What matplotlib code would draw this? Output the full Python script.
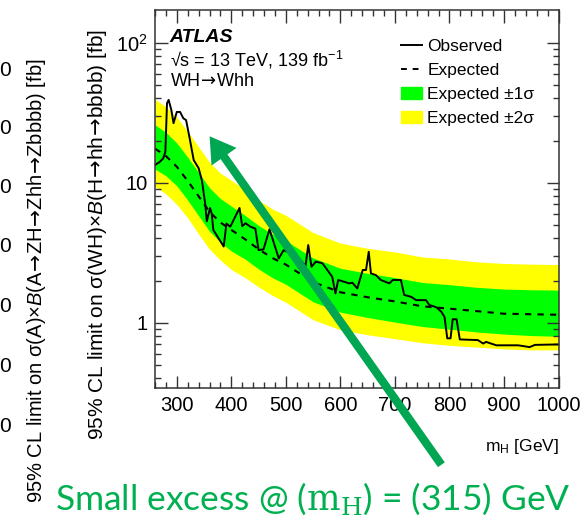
import matplotlib
matplotlib.use("Agg")
import matplotlib.pyplot as plt
from matplotlib.patches import FancyArrowPatch, Patch
from matplotlib.lines import Line2D
from matplotlib.ticker import MultipleLocator, LogLocator, NullFormatter, FixedLocator, FixedFormatter

plt.rcParams["font.family"] = ["Liberation Sans", "DejaVu Sans"]
plt.rcParams["mathtext.fontset"] = "custom"
plt.rcParams["mathtext.rm"] = "Liberation Sans"
plt.rcParams["mathtext.it"] = "Liberation Sans:italic"
plt.rcParams["mathtext.bf"] = "Liberation Sans:bold"
plt.rcParams["mathtext.sf"] = "DejaVu Sans"

# expected limit and bands
mass = [260, 280, 300, 320, 340, 360, 380, 400, 425, 450, 475, 500, 550,
        600, 650, 700, 750, 800, 850, 900, 950, 1000]
expected = [17.5, 15.5, 13.0, 10.3, 8.0, 6.2, 5.2, 4.6, 3.95, 3.35, 2.9, 2.6, 1.95,
            1.65, 1.52, 1.42, 1.31, 1.26, 1.21, 1.16, 1.15, 1.14]
up2 = [39.4, 34.9, 29.3, 23.2, 18.0, 14.0, 11.7, 10.4, 8.9, 7.5, 6.5, 5.85, 4.4,
       3.7, 3.4, 3.2, 2.95, 2.85, 2.72, 2.65, 2.62, 2.6]
up1 = [25.9, 22.9, 19.2, 15.2, 11.8, 9.2, 7.7, 6.8, 5.85, 4.95, 4.3, 3.85, 2.9,
       2.45, 2.25, 2.1, 1.94, 1.87, 1.79, 1.74, 1.72, 1.71]
dn1 = [12.5, 11.2, 9.5, 7.5, 5.8, 4.5, 3.75, 3.25, 2.85, 2.42, 2.1, 1.88, 1.41,
       1.19, 1.09, 1.01, 0.94, 0.9, 0.86, 0.83, 0.81, 0.8]
dn2 = [9.4, 8.3, 7.0, 5.6, 4.3, 3.35, 2.8, 2.4, 2.1, 1.8, 1.57, 1.4, 1.05,
       0.89, 0.82, 0.77, 0.72, 0.69, 0.67, 0.65, 0.64, 0.64]

# observed limit
obs_m = [260, 268, 275, 279, 282, 285, 290, 294, 300, 306, 312, 317, 323, 331, 340,
         346, 352, 355, 361, 364, 367, 386, 391, 398, 403, 415, 420, 426, 435, 444,
         450, 459, 470, 487, 496, 509, 518, 527, 536, 541, 547, 555, 567, 576, 585,
         591, 596, 607, 616, 622, 631, 641, 647, 652, 656, 665, 674, 690, 696, 711,
         717, 730, 739, 757, 763, 776, 785, 791, 796, 802, 806, 813, 819, 852, 862,
         867, 886, 926, 947, 957, 1000]
obs_v = [13.4, 14.0, 14.9, 16.6, 36.9, 39.0, 33.0, 26.6, 32.0, 32.0, 28.8, 28.0, 21.3, 14.5, 12.7,
         10.4, 7.1, 5.3, 6.6, 6.0, 4.6, 3.5, 5.1, 4.85, 5.3, 6.6, 4.9, 5.13, 4.85, 4.7,
         3.3, 3.34, 4.65, 2.88, 3.3, 3.13, 3.04, 2.8, 2.54, 3.59, 2.51, 2.73, 2.66, 2.38, 2.13,
         1.62, 2.02, 1.96, 1.91, 1.93, 1.76, 2.38, 2.38, 3.21, 2.25, 2.19, 2.02, 1.91, 2.02, 2.02,
         1.58, 1.53, 1.45, 1.45, 1.34, 1.29, 1.2, 1.1, 0.774, 0.774, 1.06, 1.06, 0.76, 0.752, 0.71,
         0.73, 0.69, 0.69, 0.67, 0.695, 0.70]

left_ticks_y = [70, 128, 188, 247, 306, 366, 426]  # cropped neighbour chart tick labels (pixels from top)

ARR = r"$\!\mathsf{\rightarrow}\!$"

W, H = 583, 518
fig = plt.figure(figsize=(W / 100, H / 100), dpi=100)
ax = fig.add_axes([155 / W, 1 - 388 / H, (558.5 - 155) / W, (388 - 10) / H])

ax.fill_between(mass, dn2, up2, color="#ffff00", lw=0)
ax.fill_between(mass, dn1, up1, color="#00ff00", lw=0)
ax.plot(mass, expected, color="black", lw=1.5, ls=(0, (3, 3)))
ax.plot(obs_m, obs_v, color="black", lw=1.4)

ax.set_yscale("log")
ax.set_xlim(260, 1000)
ax.set_ylim(0.342, 171)

ax.xaxis.set_major_locator(MultipleLocator(100))
ax.xaxis.set_minor_locator(MultipleLocator(20))
ax.yaxis.set_major_locator(FixedLocator([1, 10, 100]))
ax.yaxis.set_major_formatter(FixedFormatter(["1", "10", "10$^2$"]))
ax.yaxis.set_minor_locator(LogLocator(base=10, subs=range(2, 10)))
ax.yaxis.set_minor_formatter(NullFormatter())
ax.tick_params(which="both", direction="in", top=True, right=True, width=1, color="#333333")
ax.tick_params(which="major", length=9, labelsize=14.5, pad=5)
ax.tick_params(which="minor", length=4.5)
ax.tick_params(axis="x", which="major", pad=6)
for s in ax.spines.values():
    s.set_linewidth(1.1)
    s.set_color("#333333")

fig.text(98 / W, 1 - 235 / H,
         "95% CL limit on σ(WH)×$\\mathit{B}$(H" + ARR + "hh" + ARR + "bbbb) [fb]",
         rotation=90, ha="center", va="center", fontsize=15)
ax.set_xlabel(r"m$_{\rm H}$ [GeV]", fontsize=12.5, ha="right")
ax.xaxis.set_label_coords(1.0, -0.13)

ax.text(0.036, (388 - 37) / 378, "ATLAS", transform=ax.transAxes, fontsize=14, fontweight="bold",
        fontstyle="italic", va="center")
ax.text(0.036, (388 - 60) / 378, "√s = 13 TeV, 139 fb$^{-1}$", transform=ax.transAxes,
        fontsize=13, va="center")
ax.text(0.036, (388 - 82) / 378, "WH" + ARR + "Whh", transform=ax.transAxes, fontsize=13, va="center")

handles = [Line2D([], [], color="black", lw=1.4),
           Line2D([], [], color="black", lw=1.4, ls=(0, (3, 3))),
           Patch(color="#00ff00"), Patch(color="#ffff00")]
labels = ["Observed", "Expected", "Expected ±1σ", "Expected ±2σ"]
ax.legend(handles, labels, loc="upper left", bbox_to_anchor=(0.61, (388 - 39) / 378), frameon=False,
          fontsize=12.5, handlelength=1.2, handletextpad=0.3, labelspacing=0.5,
          borderaxespad=0, borderpad=0)

# cropped neighbour chart on the left
fig.text(37 / W, 1 - 281 / H,
         "95% CL limit on σ(A)×$\\mathit{B}$(A" + ARR + "ZH" + ARR + "Zhh" + ARR + "Zbbbb) [fb]",
         rotation=90, ha="center", va="center", fontsize=14.5)
for yp in left_ticks_y:
    fig.text(11 / W, 1 - yp / H, "0", ha="right", va="center", fontsize=15)

# slide annotation
arrow = FancyArrowPatch((443 / W, 1 - 467 / H), (208 / W, 1 - 134 / H),
                        transform=fig.transFigure,
                        arrowstyle="simple,tail_width=0.3,head_width=1.1,head_length=0.9",
                        mutation_scale=20, color="#00a651", lw=0)
fig.add_artist(arrow)
fig.text(55 / W, 1 - 510 / H, r"Small excess @ ($\mathrm{m_H}$) = (315) GeV", color="#00b050",
         fontsize=25.5, family=["Lato", "DejaVu Sans"], math_fontfamily="dejavuserif",
         ha="left", va="baseline")

fig.savefig("out.png", dpi=100)
